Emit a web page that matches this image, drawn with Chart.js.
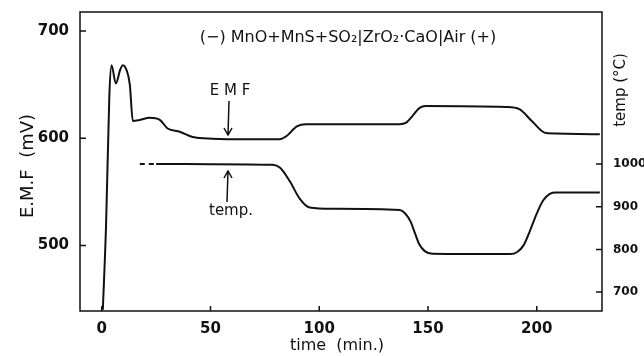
<!DOCTYPE html>
<html>
<head>
<meta charset="utf-8">
<script src="https://cdn.jsdelivr.net/npm/chart.js@4/dist/chart.umd.min.js"></script>
<style>
  body{margin:0;background:#fff;}
  #grafico{display:block;}
</style>
</head>
<body>
<canvas id="grafico" width="644" height="356"></canvas>
<script>
// valores
const emfTime = [0.5, 2, 3.5, 4.5, 6.5, 8.5, 9.7, 11.5, 12.9, 14.3, 17.5, 22, 26.7, 30.3, 35.9, 41.8, 51, 66.7, 81.8, 85, 89.7, 94, 118.6, 137, 140, 143, 146, 149, 186, 192, 197.7, 202.8, 205, 229];
const emfMv   = [440, 520, 640, 668, 651, 664, 668, 663, 650, 616, 617, 619, 617, 609, 606, 601, 599.5, 599, 599, 602, 611, 613, 613, 613, 614.5, 621, 628, 630, 629, 627, 616, 606, 604.5, 603.7];

const tempTime = [17.5, 25, 50, 78.6, 82, 86.4, 91, 95.6, 106, 137, 139.5, 142, 144, 146, 148.5, 152, 188, 191, 194, 197, 200, 203, 206, 209, 229];
const tempC    = [1000, 1000, 999.5, 998, 991, 960, 919, 898, 895, 892, 884, 865, 838, 812, 796, 790, 789, 794, 810, 845, 884, 915, 930, 933, 933];

const timeTicks = [0, 50, 100, 150, 200];
const emfTicks  = [500, 600, 700];
const tempTicks = [700, 800, 900, 1000];

const cellText = '(\u2212) MnO+MnS+SO\u2082|ZrO\u2082\u00b7CaO|Air (+)';

const fuente = '"DejaVu Sans", sans-serif';

function puntos(xs, ys){
    return xs.map((x, i) => ({x: x, y: ys[i]}));
}

const marco = {
    id: 'marco',
    afterDraw(chart){
        const ctx = chart.ctx;
        const a = chart.chartArea;
        const sx = chart.scales.x, sy = chart.scales.y, st = chart.scales.y1;
        ctx.save();
        ctx.strokeStyle = '#111';
        ctx.fillStyle = '#111';
        ctx.lineWidth = 1.5;
        ctx.strokeRect(a.left, a.top, a.right - a.left, a.bottom - a.top);

        // ticks hacia adentro
        ctx.beginPath();
        timeTicks.forEach(v => {
            const px = sx.getPixelForValue(v);
            ctx.moveTo(px, a.bottom); ctx.lineTo(px, a.bottom - 5);
        });
        emfTicks.forEach(v => {
            const py = sy.getPixelForValue(v);
            ctx.moveTo(a.left, py); ctx.lineTo(a.left + 6, py);
        });
        tempTicks.forEach(v => {
            const py = st.getPixelForValue(v);
            ctx.moveTo(a.right, py); ctx.lineTo(a.right - 6, py);
        });
        ctx.stroke();

        // titulos de ejes
        ctx.textAlign = 'center';
        ctx.textBaseline = 'middle';
        ctx.font = '18px ' + fuente;
        ctx.save();
        ctx.translate(28, 166);
        ctx.rotate(-Math.PI / 2);
        ctx.fillText('E.M.F  (mV)', 0, 0);
        ctx.restore();

        ctx.font = '15px ' + fuente;
        ctx.save();
        ctx.translate(621, 90);
        ctx.rotate(-Math.PI / 2);
        ctx.fillText('temp (\u00b0C)', 0, 0);
        ctx.restore();

        ctx.font = '16px ' + fuente;
        ctx.fillText('time  (min.)', 337, 346);

        // celda
        ctx.font = '16px ' + fuente;
        ctx.fillText(cellText, 348, 38);

        // etiquetas con flechas
        ctx.font = '15px ' + fuente;
        ctx.fillText('E M F', 230, 91);
        ctx.fillText('temp.', 231, 211);

        ctx.lineWidth = 1.5;
        ctx.beginPath();
        ctx.moveTo(229, 101); ctx.lineTo(228, 135);
        ctx.moveTo(224, 128); ctx.lineTo(228, 135); ctx.lineTo(232, 128);
        ctx.moveTo(227, 202); ctx.lineTo(228, 171);
        ctx.moveTo(224, 178); ctx.lineTo(228, 171); ctx.lineTo(232, 178);
        ctx.stroke();
        ctx.restore();
    }
};

const CanvasG = document.getElementById('grafico').getContext('2d');

const datos = {
    datasets: [
        {
            label: 'EMF',
            data: puntos(emfTime, emfMv),
            yAxisID: 'y',
            borderColor: '#111',
            borderWidth: 2,
            pointRadius: 0,
            cubicInterpolationMode: 'monotone',
        },
        {
            label: 'temp.',
            data: puntos(tempTime, tempC),
            yAxisID: 'y1',
            borderColor: '#111',
            borderWidth: 2,
            pointRadius: 0,
            cubicInterpolationMode: 'monotone',
            segment: {
                borderDash: ctx => ctx.p0DataIndex === 0 ? [5, 4] : undefined,
            },
        },
    ]
};

const opciones = {
    responsive: false,
    animation: false,
    layout: {padding: {top: 10, left: 0, right: 0, bottom: 0}},
    plugins: {legend: {display: false}, tooltip: {enabled: false}},
    scales: {
        x: {
            type: 'linear',
            min: -10,
            max: 230,
            grid: {display: false},
            border: {display: false},
            afterBuildTicks: s => { s.ticks = timeTicks.map(v => ({value: v})); },
            afterFit: s => { s.height = 45; },
            ticks: {color: '#111', font: {family: fuente, size: 15, weight: 'bold'}, padding: 1, maxRotation: 0,
                    callback: v => String(v)},
        },
        y: {
            position: 'left',
            min: 438.9,
            max: 717.6,
            grid: {display: false},
            border: {display: false},
            afterBuildTicks: s => { s.ticks = emfTicks.map(v => ({value: v})); },
            afterFit: s => { s.width = 80; },
            ticks: {color: '#111', font: {family: fuente, size: 15, weight: 'bold'}, padding: 3,
                    callback: v => String(v)},
        },
        y1: {
            position: 'right',
            min: 655.8,
            max: 1355.8,
            grid: {display: false},
            border: {display: false},
            afterBuildTicks: s => { s.ticks = tempTicks.map(v => ({value: v})); },
            afterFit: s => { s.width = 42; },
            ticks: {color: '#111', font: {family: fuente, size: 12, weight: 'bold'}, padding: 3,
                    callback: v => String(v)},
        },
    }
};

const G = new Chart(CanvasG, {
    type: 'line',
    data: datos,
    options: opciones,
    plugins: [marco],
});
</script>
</body>
</html>
